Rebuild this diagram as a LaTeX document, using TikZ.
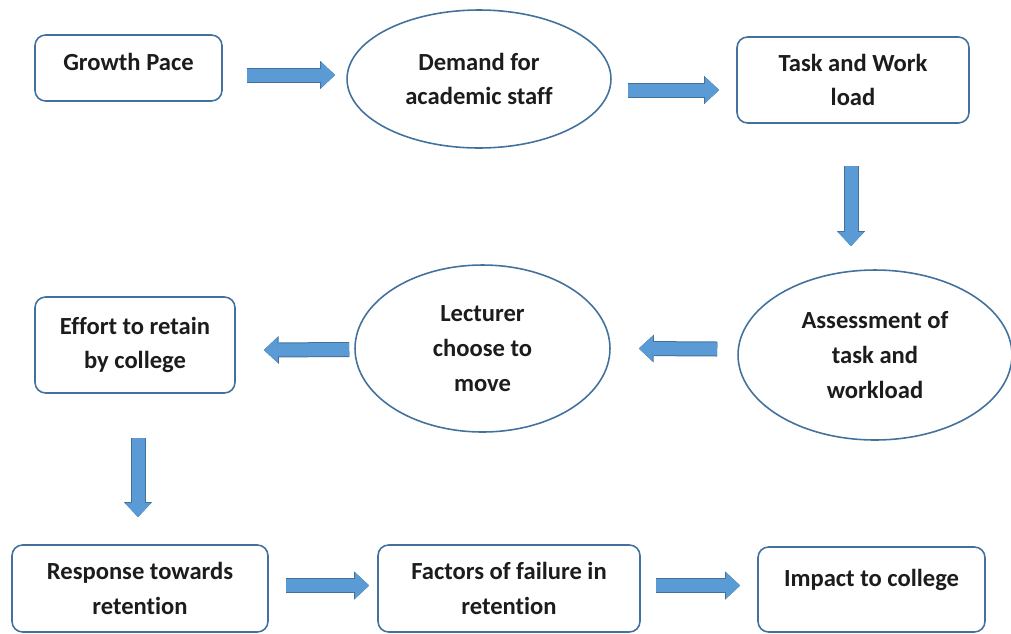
\documentclass[tikz,border=0pt]{standalone}
\usepackage{fontspec}
\setmainfont{Carlito}[Ligatures=NoCommon]
\usepackage{tikz}
\usetikzlibrary{positioning,arrows.meta,shapes.geometric}
\definecolor{boxline}{HTML}{41719C}
\definecolor{arrowfill}{HTML}{5B9BD5}
\definecolor{arrowedge}{HTML}{41719C}
\definecolor{textdark}{HTML}{1C1C1C}

\newcommand{\lifttext}[2]{\raisebox{#1}[\height][\depth]{#2}}

\tikzset{
  box/.style={draw=boxline,line width=0.9pt,rounded corners=6pt,inner sep=0pt,
              align=center,text=textdark,font=\bfseries\fontsize{14}{19.8}\selectfont},
  oval/.style={box,ellipse,rounded corners=0pt},
  flow/.style={draw=arrowfill,line width=0.26cm,
               -{Triangle[length=0.28cm,width=0.5cm,line width=0pt]},
               preaction={draw=arrowedge,line width=0.30cm,
                          -{Triangle[length=0.30cm,width=0.56cm,line width=0pt]}}}
}

\begin{document}
\begin{tikzpicture}[x=0.02cm,y=-0.02cm]
  \useasboundingbox (0,0) rectangle (1011,633);

  % top row
  \node[box,minimum width=3.74cm,minimum height=1.32cm] (growth) at (128.5,68) {\lifttext{0.12cm}{Growth Pace}};
  \node[oval,minimum width=5.28cm,minimum height=2.76cm] (demand) at (479,79) {Demand for\\academic staff};
  \node[box,minimum width=4.64cm,minimum height=1.72cm] (task) at (853,80) {Task and Work\\load};

  % middle row
  \node[oval,minimum width=5.48cm,minimum height=3.40cm] (assess) at (875,355) {Assessment of\\task and\\workload};
  \node[oval,minimum width=5.10cm,minimum height=3.34cm] (lecturer) at (482.5,348.5) {Lecturer\\choose to\\move};
  \node[box,minimum width=4.00cm,minimum height=1.92cm] (effort) at (135,345) {Effort to retain\\by college};

  % bottom row
  \node[box,minimum width=5.12cm,minimum height=1.74cm] (response) at (140,588.5) {Response towards\\retention};
  \node[box,minimum width=5.24cm,minimum height=1.74cm] (factors) at (509,588.5) {Factors of failure in\\retention};
  \node[box,minimum width=4.54cm,minimum height=1.70cm] (impact) at (871.5,589.5) {\lifttext{0.2cm}{Impact to college}};

  % block arrows
  \draw[flow] ([shift={(24,7)}]growth.east) -- ([shift={(-11,-4)}]demand.west);
  \draw[flow] ([shift={(16,11)}]demand.east) -- ([shift={(-17,10)}]task.west);
  \draw[flow] ([shift={(-2,42)}]task.south) -- ([shift={(-24,-23)}]assess.north);
  \draw[flow] ([shift={(-20,-6)}]assess.west) -- ([shift={(28,0)}]lecturer.east);
  \draw[flow] ([shift={(-5,1)}]lecturer.west) -- ([shift={(28,5)}]effort.east);
  \draw[flow] ([shift={(3,44)}]effort.south) -- ([shift={(-2,-27)}]response.north);
  \draw[flow] ([shift={(17,-3)}]response.east) -- ([shift={(-8,-3)}]factors.west);
  \draw[flow] ([shift={(15,-3)}]factors.east) -- ([shift={(-17,-4)}]impact.west);
\end{tikzpicture}
\end{document}
